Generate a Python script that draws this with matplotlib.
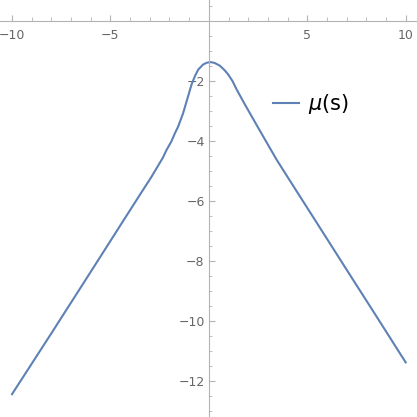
import matplotlib
matplotlib.use("Agg")
import matplotlib.pyplot as plt
from matplotlib.ticker import MultipleLocator, FixedLocator

# values
s_vals = [-10, -8, -6, -4.27, -3.5, -2.92, -2.33, -2.15, -1.90, -1.73,
          -1.56, -1.31, -1.05, -0.88, -0.71, -0.54, -0.29, -0.1, 0.1, 0.3,
          0.56, 0.8, 0.98, 1.2, 1.41, 1.83, 2.43, 3.0, 3.45, 4,
          5.39, 7, 8.5, 10]
mu_vals = [-12.44, -10.41, -8.36, -6.58, -5.79, -5.2, -4.55, -4.3, -4.01, -3.75,
           -3.52, -3.08, -2.5, -2.12, -1.84, -1.62, -1.45, -1.39, -1.37, -1.40,
           -1.49, -1.64, -1.78, -2.0, -2.28, -2.78, -3.47, -4.12, -4.63, -5.2,
           -6.63, -8.29, -9.83, -11.38]

x_major = [-10, -5, 5, 10]
y_major = [-12, -10, -8, -6, -4, -2]

axis_grey = "#b3b3b3"
label_grey = "#666666"

fig = plt.figure(figsize=(4.17, 4.17), dpi=100)
ax = fig.add_axes([0, 0, 1, 1])

line, = ax.plot(s_vals, mu_vals, color="#5E81B5", lw=1.5, label=r"$\mu$(s)",
                solid_joinstyle="round")

ax.set_xlim(-10.61, 10.575)
ax.set_ylim(-13.2, 0.7)

# axes crossing at origin, Mathematica style
ax.spines["left"].set_position(("data", 0))
ax.spines["bottom"].set_position(("data", 0))
ax.spines["top"].set_visible(False)
ax.spines["right"].set_visible(False)
for sp in ["left", "bottom"]:
    ax.spines[sp].set_color(axis_grey)
    ax.spines[sp].set_linewidth(0.8)

ax.xaxis.set_major_locator(FixedLocator(x_major))
ax.xaxis.set_minor_locator(MultipleLocator(1))
ax.yaxis.set_major_locator(FixedLocator(y_major))
ax.yaxis.set_minor_locator(MultipleLocator(0.5))
ax.set_xticklabels([f"\u2212{abs(v)}" if v < 0 else str(v) for v in x_major])
ax.set_yticklabels([f"\u2212{abs(v)}" for v in y_major])

ax.tick_params(axis="both", which="both", direction="in", color=axis_grey,
               labelcolor=label_grey, labelsize=9)
ax.tick_params(axis="x", which="major", length=4.5, width=0.8, pad=5.5)
ax.tick_params(axis="x", which="minor", length=3, width=0.6)
ax.tick_params(axis="y", which="major", length=4, width=0.8, pad=3)
ax.tick_params(axis="y", which="minor", length=2.5, width=0.6)

fig.legend(handles=[line], loc="center left", bbox_to_anchor=(272.7 / 417, 1 - 104.3 / 417),
           frameon=False, fontsize=15, borderaxespad=0, borderpad=0,
           handlelength=1.25, handletextpad=0.45)

fig.savefig("out.png", dpi=100)
